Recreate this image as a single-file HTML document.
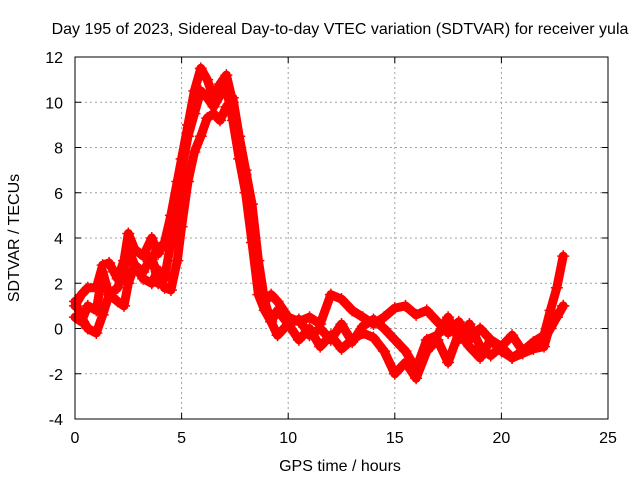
<!DOCTYPE html>
<html><head><meta charset="utf-8"><style>
body{margin:0;background:#fff}
svg{display:block;font-family:"Liberation Sans",sans-serif;font-size:16px}
</style></head><body>
<svg id="c" width="640" height="480">
<rect width="640" height="480" fill="#fff"/>
<text x="340" y="34" text-anchor="middle">Day 195 of 2023, Sidereal Day-to-day VTEC variation (SDTVAR) for receiver yula</text>
<text x="340" y="471" text-anchor="middle">GPS time / hours</text>
<text transform="translate(19,238) rotate(-90)" text-anchor="middle">SDTVAR / TECUs</text>
<g id="grid"></g><g id="data"></g><g id="axes"></g>
</svg>
<script>
const xTicks=[0,5,10,15,20,25];
const yTicks=[-4,-2,0,2,4,6,8,10,12];
const times=[0,0.3,0.6,1,1.3,1.6,2,2.3,2.5,2.8,3.2,3.6,3.9,4.2,4.5,4.8,5,5.3,5.6,5.9,6.2,6.5,6.8,7.1,7.4,7.7,8,8.3,8.6,8.9,9.2,9.5,10,10.5,11,11.5,12,12.5,13,13.5,14,14.5,15,15.5,16,16.5,17,17.5,18,18.5,19,19.5,20,20.5,21,21.5,22,22.3,22.6,22.9];
const traceA=[1.0,1.5,1.8,1.8,2.8,2.9,2.2,3.0,4.2,3.5,3.2,4.0,3.3,3.8,5.0,6.5,7.5,9.0,10.5,11.5,11.0,10.2,10.8,11.2,10.0,8.0,6.8,4.5,2.0,1.2,1.5,1.2,0.5,0.3,0.5,0.2,1.5,1.3,0.8,0.5,0.2,0.5,0.9,1.0,0.6,0.8,0.3,-0.2,0.3,-0.5,0.0,-0.5,-0.8,-0.3,-1.0,-0.6,-0.3,0.8,1.8,3.2];
const traceB=[0.5,0.3,1.0,0.8,2.5,1.5,1.8,2.6,3.5,2.8,2.5,3.2,2.0,2.2,3.8,5.5,7.0,8.5,9.5,10.5,10.2,9.8,10.3,10.6,9.2,7.5,6.0,3.8,1.5,0.8,0.3,0.8,0.2,0.4,-0.3,0.0,-0.5,0.2,-0.6,0.1,0.4,0.0,-0.5,-1.0,-1.8,-0.5,-0.3,0.5,-0.5,0.2,-0.8,-1.2,-0.8,-1.3,-1.1,-0.9,-0.8,0.2,0.5,1.0];
const traceC=[1.2,0.5,0.0,-0.2,0.6,1.5,1.2,1.0,2.0,2.8,2.2,2.0,2.6,1.8,1.7,3.0,4.5,6.5,7.8,8.5,9.3,9.5,9.2,9.8,10.2,8.5,7.0,5.5,3.0,1.2,0.3,-0.3,0.2,-0.5,0.0,-0.8,-0.3,-0.9,-0.5,-0.2,-0.4,-1.0,-2.0,-1.5,-2.2,-1.0,-0.5,-1.5,-0.2,-0.8,-1.3,-0.5,-1.0,-1.3,-1.0,-0.7,-0.5,0.0,0.5,1.0];
const X0=75,X1=608,Y0=419,Y1=57;
const sx=v=>X0+(v-0)/(25-0)*(X1-X0);
const sy=v=>Y0-(v+4)/16*(Y0-Y1);
const NS="http://www.w3.org/2000/svg";
function mk(tag,attrs,parent){const e=document.createElementNS(NS,tag);for(const k in attrs)e.setAttribute(k,attrs[k]);parent.appendChild(e);return e;}
const grid=document.getElementById('grid'),axes=document.getElementById('axes'),data=document.getElementById('data');
xTicks.forEach(t=>{
  const x=sx(t);
  if(t>0&&t<25){const g=mk('line',{x1:x,x2:x,y1:Y1,y2:Y0,stroke:'#a0a0a0','stroke-dasharray':'2,3'},grid);
  
  }
  mk('line',{x1:x,x2:x,y1:Y0,y2:Y0-6,stroke:'#000'},axes);
  mk('line',{x1:x,x2:x,y1:Y1,y2:Y1+6,stroke:'#000'},axes);
  const l=mk('text',{x:x,y:Y0+24,'text-anchor':'middle'},axes);l.textContent=t;
  
  
});
yTicks.forEach(t=>{
  const y=sy(t);
  if(t>-4&&t<12){const g=mk('line',{x1:X0,x2:X1,y1:y,y2:y,stroke:'#a0a0a0','stroke-dasharray':'2,3'},grid);
  
  }
  mk('line',{x1:X0,x2:X0+6,y1:y,y2:y,stroke:'#000'},axes);
  mk('line',{x1:X1,x2:X1-6,y1:y,y2:y,stroke:'#000'},axes);
  const l=mk('text',{x:X0-12,y:y+6,'text-anchor':'end'},axes);l.textContent=t;
  
  
});
const fr=mk('rect',{x:X0,y:Y1,width:X1-X0,height:Y0-Y1,fill:'none',stroke:'#000'},axes);


[traceA,traceB,traceC].forEach((tr,i)=>{
  let d='';
  tr.forEach((v,j)=>{if(j<times.length)d+=(j?'L':'M')+sx(times[j]).toFixed(1)+','+sy(v).toFixed(1);});
  const p=mk('path',{d:d,fill:'none',stroke:'#f00','stroke-width':9,'stroke-linejoin':'round','stroke-linecap':'round'},data);
  
  
  tr.forEach((v,j)=>{if(j>=times.length)return;const x=sx(times[j]),y=sy(v);
    const m=mk('path',{d:`M${x-6},${y}H${x+6}M${x},${y-6}V${y+6}`,stroke:'#f00','stroke-width':1.5},data);
    
    });
});
</script>
</body></html>
